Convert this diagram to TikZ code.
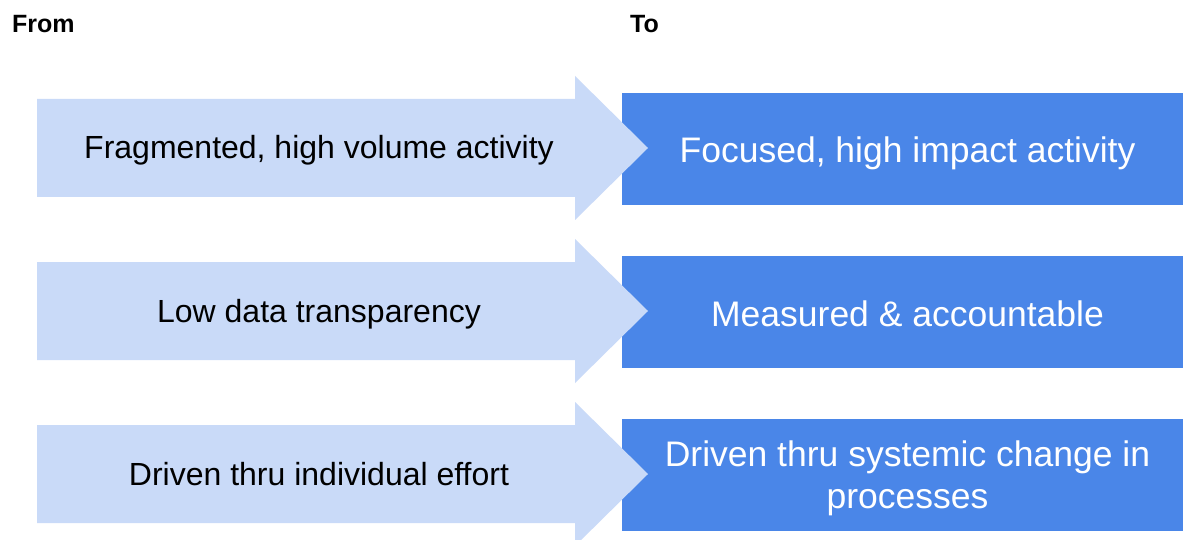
\documentclass[tikz,border=0pt]{standalone}
\usepackage{fontspec}
\setmainfont{Liberation Sans}
\definecolor{lightblue}{HTML}{C9DAF8}
\definecolor{darkblue}{HTML}{4A86E8}
\tikzset{
  fromarrow/.style={fill=lightblue, draw=none},
  tobox/.style={fill=darkblue, draw=none, minimum width=561pt, minimum height=112pt, inner sep=0pt},
  totext/.style={text=white, font=\fontsize{35.5}{42}\selectfont, align=center, inner sep=0pt, anchor=base},
  fromtext/.style={font=\fontsize{32}{37}\selectfont, text=black, inner sep=0pt, anchor=base},
  head/.style={font=\bfseries\fontsize{25}{30}\selectfont, inner sep=0pt, anchor=base west}
}
\begin{document}
\begin{tikzpicture}[x=1pt,y=-1pt]
\useasboundingbox[fill=white] (0,0) rectangle (1183,540);
\node[head] (from) at (12,33) {From};
\node[head] (to) at (630,33) {To};
\foreach \i/\c/\lt/\rt in {1/148/{Fragmented, high volume activity}/{Focused, high impact activity},
                          2/311/{Low data transparency}/{Measured \& accountable}}{
  \node[tobox] (box\i) at (902.5,\c+1) {};
  \fill[fromarrow] (37,\c-49) -- (575,\c-49) -- (575,\c-72) -- (648,\c) -- (575,\c+72) -- (575,\c+49) -- (37,\c+49) -- cycle;
  \node[fromtext] (lt\i) at (319,\c+11) {\lt};
  \node[totext] (rt\i) at (907.5,\c+15) {\rt};
}
\node[tobox] (box3) at (902.5,475) {};
\fill[fromarrow] (37,425) -- (575,425) -- (575,402) -- (648,474) -- (575,546) -- (575,523) -- (37,523) -- cycle;
\node[fromtext] (lt3) at (319,485) {Driven thru individual effort};
\node[totext, anchor=center] (rt3) at (907.5,478.5) {Driven thru systemic change in\\processes};
\end{tikzpicture}
\end{document}
